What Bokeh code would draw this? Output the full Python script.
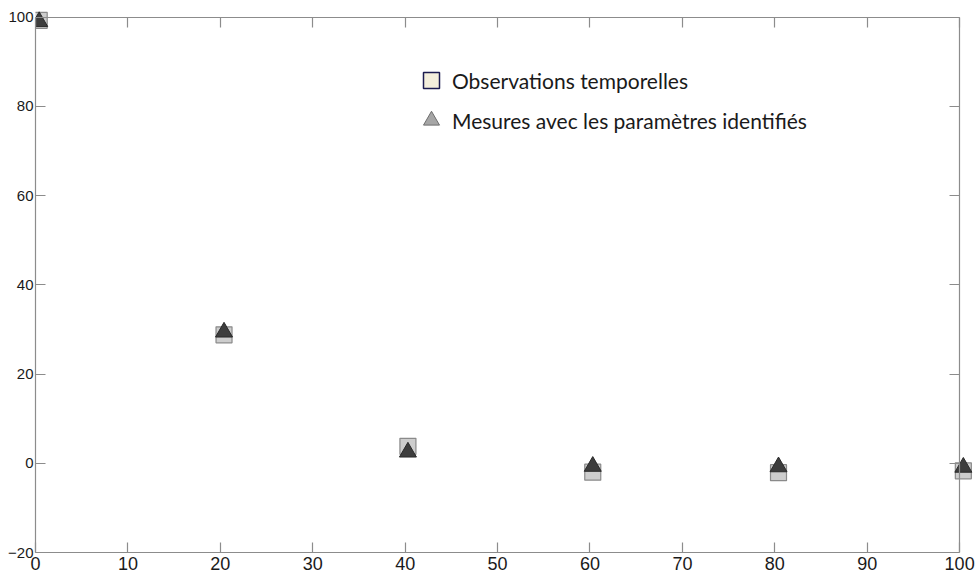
from bokeh.plotting import figure
from bokeh.models import (ColumnDataSource, Legend, LegendItem, LinearAxis,
                          FixedTicker, Range1d)
from bokeh.embed import file_html
from bokeh.resources import INLINE

# ---- data ----
obs_x = [0.4, 20.4, 40.3, 60.3, 80.4, 100.4]
obs_y = [99.3, 28.8, 3.8, -2.0, -2.1, -1.7]
mes_x = [0.4, 20.4, 40.3, 60.3, 80.4, 100.4]
mes_y = [99.0, 29.4, 2.5, -0.7, -0.8, -0.9]
x_ticks = [0, 10, 20, 30, 40, 50, 60, 70, 80, 90, 100]
y_ticks = [-20, 0, 20, 40, 60, 80, 100]
x_lim = (0, 100)
y_lim = (-20, 100)
labels = ["Observations temporelles", "Mesures avec les paramètres identifiés"]

AXIS_COLOR = "#8c8c8c"
NAN = float("nan")

p = figure(frame_width=938, frame_height=542, output_backend="svg",
           toolbar_location=None, x_range=Range1d(0, 101.5), y_range=Range1d(-20, 101.5),
           min_border_left=35, min_border_top=10, min_border_right=2, min_border_bottom=0,
           x_axis_type=None, y_axis_type=None)
p.xgrid.visible = False
p.ygrid.visible = False
p.outline_line_color = None
p.background_fill_color = "white"

def style_axis(ax, ticks, bounds, show_labels, font_size):
    ax.ticker = FixedTicker(ticks=ticks)
    ax.bounds = bounds
    ax.axis_line_color = AXIS_COLOR
    ax.axis_line_width = 1.2
    ax.major_tick_line_color = AXIS_COLOR
    ax.major_tick_line_width = 1.2
    ax.major_tick_in = 10
    ax.major_tick_out = 0
    ax.minor_tick_line_color = None
    if show_labels:
        ax.major_label_text_font = "Liberation Sans"
        ax.major_label_text_font_size = font_size
        ax.major_label_text_color = "#1a1a1a"
        ax.major_label_standoff = 4
    else:
        ax.major_label_text_font_size = "0px"
        ax.major_label_text_alpha = 0
        ax.major_label_standoff = 0

xb = LinearAxis(); style_axis(xb, x_ticks, x_lim, True, "18px")
yl = LinearAxis(); style_axis(yl, y_ticks, y_lim, True, "15px")
yl.major_label_standoff = 2
xt = LinearAxis(fixed_location=y_lim[1]); style_axis(xt, x_ticks, x_lim, False, "0px")
yr = LinearAxis(fixed_location=x_lim[1]); style_axis(yr, y_ticks, y_lim, False, "0px")
p.add_layout(xb, "below")
p.add_layout(yl, "left")
p.add_layout(xt, "above")
p.add_layout(yr, "right")

src_obs = ColumnDataSource(dict(x=obs_x, y=obs_y))
src_mes = ColumnDataSource(dict(x=mes_x, y=mes_y))

p.scatter("x", "y", source=src_obs, marker="square", size=16,
          fill_color="#cdcdcd", line_color="#8a8a8a", line_width=1.2)
p.scatter("x", "y", source=src_mes, marker="triangle", size=17,
          fill_color="#3d3d3d", line_color="#2a2a2a", line_width=1)

# legend-only renderers (no visible points, legend styling)
leg_sq = p.scatter(x=[NAN], y=[NAN], marker="square", size=16,
                   fill_color="#f4efdc", line_color="#1c1c50", line_width=1.5)
leg_tr = p.scatter(x=[NAN], y=[NAN], marker="triangle", size=16,
                   fill_color="#a6a6a6", line_color="#6e6e6e", line_width=1)

legend = Legend(items=[LegendItem(label=labels[0], renderers=[leg_sq]),
                       LegendItem(label=labels[1], renderers=[leg_tr])],
                location=(375, 412), padding=0, margin=0,
                glyph_width=42, glyph_height=40, spacing=-2, label_standoff=-6,
                label_text_font="Lato", label_text_font_size="21px",
                label_text_color="#1a1a1a", label_height=40,
                border_line_alpha=0, background_fill_alpha=0)
p.add_layout(legend, "center")

open("out.html", "w").write(file_html(p, INLINE))
